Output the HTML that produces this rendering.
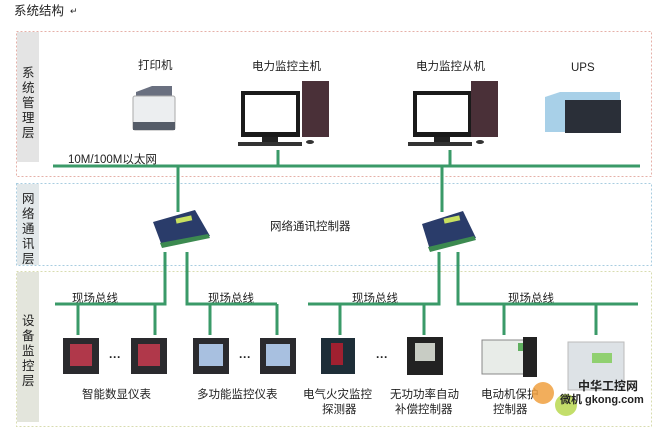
<!DOCTYPE html>
<html><head><meta charset="utf-8"><style>
html,body{margin:0;padding:0;background:#fff;width:660px;height:430px;overflow:hidden}
svg{display:block}
text{font-family:"Liberation Sans","Noto Sans CJK SC",sans-serif;fill:#222}
</style></head><body>
<svg width="660" height="430" viewBox="0 0 660 430">
<text x="14" y="15" font-size="12.5">系统结构</text>
<text x="70" y="14" font-size="9" fill="#999">↵</text>
<!-- frames -->
<rect x="16.5" y="31.5" width="635" height="145" fill="none" stroke="#e6b0a8" stroke-dasharray="2,2"/>
<rect x="17" y="32" width="22" height="130" fill="#e4e4e4"/>
<rect x="16.5" y="183.5" width="635" height="82" fill="none" stroke="#a8cde0" stroke-dasharray="2,2"/>
<rect x="17" y="184" width="22" height="81" fill="#e2e8ea"/>
<rect x="16.5" y="271.5" width="635" height="155" fill="none" stroke="#d8dcb0" stroke-dasharray="2,2"/>
<rect x="17" y="272" width="22" height="150" fill="#e3e5dc"/>
<g font-size="12.5" fill="#333">
<text x="22" y="77">系</text><text x="22" y="92">统</text><text x="22" y="107">管</text><text x="22" y="122">理</text><text x="22" y="137">层</text>
<text x="22" y="203">网</text><text x="22" y="218">络</text><text x="22" y="233">通</text><text x="22" y="248">讯</text><text x="22" y="263">层</text>
<text x="22" y="325">设</text><text x="22" y="340">备</text><text x="22" y="355">监</text><text x="22" y="370">控</text><text x="22" y="385">层</text>
</g>
<!-- labels top -->
<g font-size="11.5">
<text x="138" y="69">打印机</text>
<text x="252" y="70">电力监控主机</text>
<text x="416" y="70">电力监控从机</text>
<text x="571" y="71">UPS</text>
<text x="68" y="163">10M/100M以太网</text>
<text x="270" y="230">网络通讯控制器</text>
<text x="72" y="302">现场总线</text>
<text x="208" y="302">现场总线</text>
<text x="352" y="302">现场总线</text>
<text x="508" y="302">现场总线</text>
<text x="82" y="398">智能数显仪表</text>
<text x="197" y="398">多功能监控仪表</text>
<text x="303" y="398">电气火灾监控</text>
<text x="322" y="413">探测器</text>
<text x="390" y="398">无功功率自动</text>
<text x="395" y="413">补偿控制器</text>
<text x="481" y="398">电动机保护</text>
<text x="493" y="413">控制器</text>
</g>
<!-- green lines -->
<g stroke="#3a9a68" stroke-width="3" fill="none">
<path d="M53 166H640"/>
<path d="M278 150V166M450 150V166"/>
<path d="M178 166V212M442 166V212"/>
<path d="M165 252V304H55M78 304V335M155 304V335"/>
<path d="M187 252V304H277M210 304V335M277 304V335"/>
<path d="M439 252V304H308M340 304V335M424 304V335"/>
<path d="M458 252V304H638M504 304V335M596 304V335"/>
</g>
<!-- printer -->
<path d="M136 92L152 86H172L172 96H136Z" fill="#6a7080"/>
<rect x="133" y="96" width="42" height="34" rx="2" fill="#eceef0" stroke="#aaa"/>
<rect x="133" y="122" width="42" height="8" fill="#555c68"/>
<!-- host pc -->
<rect x="241" y="91" width="59" height="46" fill="#1a1a1a"/><rect x="245" y="95" width="51" height="37" fill="#fff"/>
<rect x="262" y="137" width="16" height="6" fill="#222"/>
<rect x="238" y="142" width="64" height="4" fill="#333"/>
<rect x="302" y="81" width="27" height="56" fill="#4a3038"/>
<ellipse cx="310" cy="142" rx="4" ry="2" fill="#333"/>
<!-- slave pc -->
<rect x="413" y="91" width="59" height="46" fill="#1a1a1a"/><rect x="417" y="95" width="51" height="37" fill="#fff"/>
<rect x="434" y="137" width="16" height="6" fill="#222"/>
<rect x="408" y="142" width="64" height="4" fill="#333"/>
<rect x="471" y="81" width="27" height="56" fill="#4a3038"/>
<ellipse cx="480" cy="142" rx="4" ry="2" fill="#333"/>
<!-- UPS -->
<path d="M545 97L560 92H620L620 132H545Z" fill="#a8d0e8"/>
<rect x="565" y="100" width="56" height="33" fill="#2a2f38"/>
<!-- switches -->
<path d="M153 222L195 210L210 236L162 246Z" fill="#2a3c6a"/>
<rect x="176" y="217" width="16" height="5" fill="#c8e060" transform="rotate(-12 184 220)"/>
<path d="M160 243L208 234L210 238L162 248Z" fill="#3c8a50"/>
<path d="M422 224L463 211L476 238L430 250Z" fill="#2a3c6a"/>
<rect x="444" y="217" width="16" height="5" fill="#c8e060" transform="rotate(-12 452 220)"/>
<path d="M428 247L474 236L476 240L430 252Z" fill="#3c8a50"/>
<!-- meters -->
<g>
<rect x="63" y="338" width="36" height="36" fill="#2a2a2e"/><rect x="70" y="344" width="22" height="22" fill="#b0384a"/>
<rect x="131" y="338" width="36" height="36" fill="#2a2a2e"/><rect x="138" y="344" width="22" height="22" fill="#b0384a"/>
<rect x="193" y="338" width="36" height="36" fill="#2a2a2e"/><rect x="199" y="344" width="24" height="22" fill="#a8c0e0"/>
<rect x="260" y="338" width="36" height="36" fill="#2a2a2e"/><rect x="266" y="344" width="24" height="22" fill="#a8c0e0"/>
<rect x="321" y="338" width="34" height="36" fill="#1e2e38"/><rect x="331" y="343" width="12" height="22" fill="#a02030"/>
<rect x="407" y="337" width="36" height="38" fill="#222"/><rect x="415" y="343" width="20" height="18" fill="#c8ccc4"/>
<rect x="482" y="340" width="50" height="34" fill="#e8ece8" stroke="#888"/><rect x="518" y="343" width="12" height="8" fill="#60b060"/>
<rect x="523" y="337" width="14" height="40" fill="#222"/>
<rect x="568" y="342" width="56" height="48" fill="#dde2e6" stroke="#bbb"/><rect x="592" y="353" width="20" height="10" fill="#90d070"/>
</g>
<g font-size="12" font-weight="bold" fill="#222">
<text x="109" y="361">···</text><text x="239" y="361">···</text><text x="376" y="361">···</text>
</g>
<!-- watermark -->
<circle cx="543" cy="393" r="11" fill="#f0a040" opacity="0.85"/>
<circle cx="566" cy="405" r="11" fill="#b8d850" opacity="0.85"/>
<text x="578" y="390" font-size="12" fill="#f09040" font-weight="bold">中华工控网</text>
<text x="560" y="403" font-size="11" fill="#888" font-weight="bold">微机 gkong.com</text>
</svg>
</body></html>
